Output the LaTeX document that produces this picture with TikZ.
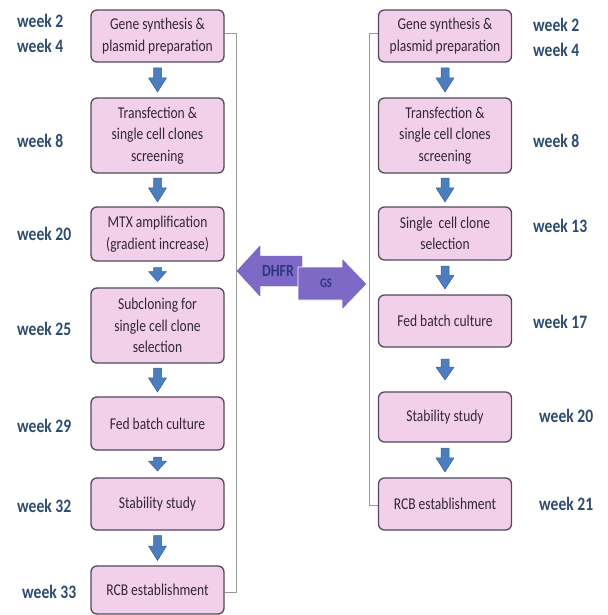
\documentclass[tikz,border=0pt]{standalone}
\usepackage{fontspec}
\setmainfont[FakeStretch=0.82]{Carlito}
\usetikzlibrary{calc}
\definecolor{boxfill}{HTML}{F3D0E9}
\definecolor{boxdraw}{HTML}{52495C}
\definecolor{boxtext}{HTML}{33263A}
\definecolor{weekblue}{HTML}{2D4B72}
\definecolor{arrblue}{HTML}{4B7DBF}
\definecolor{arrbluedk}{HTML}{3A639A}
\definecolor{purp}{HTML}{7E69C7}
\definecolor{purptext}{HTML}{2C3580}
\definecolor{brk}{HTML}{9A9A9A}
\tikzset{
  stepbox/.style={rectangle, rounded corners=6pt, draw=boxdraw, line width=1.3pt,
    fill=boxfill, minimum width=133pt, align=center, inner sep=2pt, text=boxtext,
    font=\fontsize{16.5}{21.5}\selectfont},
  weeklbl/.style={anchor=base west, inner sep=0pt, text=weekblue,
    font=\bfseries\fontsize{19}{22}\selectfont},
  blockarr/.style={fill=arrblue, draw=arrbluedk, line width=0.5pt, line join=round},
  bracketline/.style={draw=brk, line width=0.7pt},
  purparr/.style={fill=purp, draw=purp!85!black, line width=0.4pt, line join=round},
}
\newcommand\downarr[3]{%
  \path let \p1=(#1.south), \p2=(#2.north), \n1={(\y1+\y2)/2}, \n2={#3/2}, \n3={4+0.42*#3} in
  [blockarr] ({\x1-4pt},{(\n1+\n2)*1pt}) -- ({\x1+4pt},{(\n1+\n2)*1pt})
   -- ({\x1+4pt},{(\n1-\n2+\n3)*1pt}) -- ({\x1+9pt},{(\n1-\n2+\n3)*1pt})
   -- ({\x1},{(\n1-\n2)*1pt}) -- ({\x1-9pt},{(\n1-\n2+\n3)*1pt})
   -- ({\x1-4pt},{(\n1-\n2+\n3)*1pt}) -- cycle;}
\begin{document}
\begin{tikzpicture}[x=1pt,y=1pt]
\useasboundingbox[fill=white] (0,0) rectangle (607,-615);

% left column
\node[stepbox, minimum height=52pt] (L1) at (157.5,-36) {Gene synthesis \&\\plasmid preparation};
\node[stepbox, minimum height=75pt] (L2) at (157.5,-135.5) {Transfection \&\\single cell clones\\screening};
\node[stepbox, minimum height=54pt] (L3) at (157.5,-234) {MTX amplification\\(gradient increase)};
\node[stepbox, minimum height=75pt] (L4) at (157.5,-325.5) {Subcloning for\\single cell clone\\selection};
\node[stepbox, minimum height=53pt] (L5) at (157.5,-423.5) {Fed batch culture};
\node[stepbox, minimum height=52pt] (L6) at (157.5,-504) {Stability study};
\node[stepbox, minimum height=48pt] (L7) at (157.5,-590) {RCB establishment};

% right column
\node[stepbox, minimum height=52pt] (R1) at (445,-36) {Gene synthesis \&\\plasmid preparation};
\node[stepbox, minimum height=75pt] (R2) at (445,-135.5) {Transfection \&\\single cell clones\\screening};
\node[stepbox, minimum height=53pt] (R3) at (445,-233.5) {Single\ \ cell clone\\selection};
\node[stepbox, minimum height=52pt] (R4) at (445,-321) {Fed batch culture};
\node[stepbox, minimum height=50pt] (R5) at (445,-417) {Stability study};
\node[stepbox, minimum height=52pt] (R6) at (445,-504) {RCB establishment};

% down arrows
\downarr{L1}{L2}{24}
\downarr{L2}{L3}{24}
\downarr{L3}{L4}{14}
\downarr{L4}{L5}{24}
\downarr{L5}{L6}{14}
\downarr{L6}{L7}{25}
\downarr{R1}{R2}{24}
\downarr{R2}{R3}{24}
\downarr{R3}{R4}{23}
\downarr{R4}{R5}{21}
\downarr{R5}{R6}{24}

% brackets
\draw[bracketline] ([yshift=3pt]L1.east) -- ++(12,0) |- ([yshift=-2pt]L7.east);
\draw[bracketline] ([yshift=3pt]R1.west) -- ++(-9,0) |- ([yshift=-1pt]R6.west);

% week labels left
\node[weeklbl] (wl1) at (17,-28) {week 2};
\node[weeklbl] (wl2) at (17,-53) {week 4};
\node[weeklbl] (wl3) at (17,-147) {week 8};
\node[weeklbl] (wl4) at (17,-240) {week 20};
\node[weeklbl] (wl5) at (17,-335) {week 25};
\node[weeklbl] (wl6) at (17,-432) {week 29};
\node[weeklbl] (wl7) at (17,-512) {week 32};
\node[weeklbl] (wl8) at (22,-598) {week 33};

% week labels right
\node[weeklbl] (wr1) at (533,-32) {week 2};
\node[weeklbl] (wr2) at (533,-57) {week 4};
\node[weeklbl] (wr3) at (533,-147) {week 8};
\node[weeklbl] (wr4) at (533,-232) {week 13};
\node[weeklbl] (wr5) at (533,-328) {week 17};
\node[weeklbl] (wr6) at (539,-422) {week 20};
\node[weeklbl] (wr7) at (539,-510) {week 21};

% central arrows
\path[purparr] (237,-271) -- (260,-246) -- (260,-256) -- (302,-256) -- (302,-286)
  -- (260,-286) -- (260,-296) -- cycle;
\node[text=purptext, font=\bfseries\fontsize{17}{18}\selectfont, inner sep=0pt] (dhfr) at (278,-271) {DHFR};
\path[purparr, draw=white, line width=0.8pt] (298,-267) -- (342,-267) -- (342,-258) -- (367,-284)
  -- (342,-310) -- (342,-300) -- (298,-300) -- cycle;
\node[text=purptext, font=\bfseries\fontsize{13}{14}\selectfont, inner sep=0pt] (gs) at (326,-283) {GS};
\end{tikzpicture}
\end{document}
